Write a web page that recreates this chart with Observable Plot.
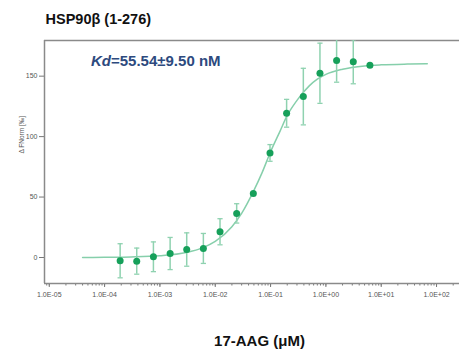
<!DOCTYPE html>
<html>
<head>
<meta charset="utf-8">
<script src="https://cdn.jsdelivr.net/npm/d3@7"></script>
<script src="https://cdn.jsdelivr.net/npm/@observablehq/plot@0.6"></script>
<style>
  html, body { margin: 0; padding: 0; background: #fff; }
  #wrap { position: relative; width: 459px; height: 352px; overflow: hidden; font-family: "Liberation Sans", Arial, sans-serif; }
  #kd { position: absolute; left: 91px; top: 52.8px; font-size: 15px; line-height: 15px; font-weight: bold; color: #2d4a7e; white-space: nowrap; }
</style>
</head>
<body>
<div id="wrap"><div id="kd"><i>Kd</i>=55.54±9.50 nM</div></div>
<script>
// ---- data ----
const title = "HSP90β (1-276)";
const xLabel = "17-AAG (μM)";
const yLabel = "Δ FNorm [‰]";

// ligand concentrations (µM), 1:1 dilution series
const conc = [0.000191, 0.000381, 0.000763, 0.00153, 0.00305, 0.0061, 0.0122, 0.0244,
              0.0488, 0.0977, 0.195, 0.391, 0.781, 1.5625, 3.125, 6.25];
// ΔFNorm (‰)
const fnorm = [-2.7, -3.0, 0.6, 3.3, 6.6, 7.5, 21.3, 36.5, 53.0, 86.5, 119.3, 133.1, 152.4, 163.0, 161.9, 159.1];
// error (± ‰)
const err = [14.1, 10.8, 12.3, 13.3, 13.8, 12.4, 10.8, 8.0, 0, 6.9, 11.5, 23.4, 24.9, 18.0, 18.2, 0];

// fitted curve
const curveConc = [4e-5, 1e-4, 3e-4, 1e-3, 3e-3, 6e-3, 0.01, 0.02, 0.03, 0.05, 0.07, 0.1, 0.15,
                   0.2, 0.3, 0.5, 0.7, 1, 2, 5, 10, 30, 68];
const curveY = [0, 0.2, 0.5, 1.5, 4.2, 8.2, 13.3, 25.5, 36.5, 55.5, 70, 87.5, 105,
                117.5, 130, 142, 147.5, 151.5, 155.8, 158.5, 159.4, 160, 160.2];

// axes
const xDomain = [8.2e-6, 260];
const yDomain = [-21.5, 179.5];
const xTicks = [1e-5, 1e-4, 1e-3, 1e-2, 1e-1, 1, 10, 100];
const xTickLabels = ["1.0E-05", "1.0E-04", "1.0E-03", "1.0E-02", "1.0E-01", "1.0E+00", "1.0E+01", "1.0E+02"];
const yTicks = [0, 50, 100, 150];
const yTickLabels = ["0", "50", "100", "150"];

// ---- build ----
const points = conc.map((c, i) => ({c, y: fnorm[i], lo: fnorm[i] - err[i], hi: fnorm[i] + err[i], e: err[i]}));
const bars = points.filter(d => d.e > 0);
const curve = curveConc.map((c, i) => ({c, y: curveY[i]}));
const xLab = new Map(xTicks.map((v, i) => [v, xTickLabels[i]]));
const yLab = new Map(yTicks.map((v, i) => [v, yTickLabels[i]]));

const capSymbol = {
  draw(ctx, size) {
    const r = Math.sqrt(size / Math.PI);
    ctx.moveTo(-r, 0);
    ctx.lineTo(r, 0);
  }
};

const frameColor = "#8a8a8a";
const tickColor = "#777";
const ptColor = "#16a05a";
const barColor = "#8fd2b0";
const curveColor = "#86cfab";

const chart = Plot.plot({
  width: 459,
  height: 352,
  marginLeft: 44,
  marginRight: 0,
  marginTop: 40,
  marginBottom: 69,
  style: {fontFamily: "'Liberation Sans', Arial, sans-serif", background: "white", overflow: "visible"},
  x: {type: "log", domain: xDomain, axis: null},
  y: {domain: yDomain, axis: null},
  marks: [
    Plot.axisX({ticks: 20, tickSize: 2.5, tickFormat: () => "", stroke: tickColor, label: null}),
    Plot.axisX({ticks: xTicks, tickSize: 4, tickPadding: 5, tickFormat: d => xLab.get(d),
                fontSize: 7, fill: "#555", stroke: tickColor, label: null}),
    Plot.axisY({ticks: yTicks, tickSize: 5, tickPadding: 2, tickFormat: d => yLab.get(d),
                fontSize: 7, fill: "#555", stroke: tickColor, label: null}),
    Plot.ruleX([xDomain[0]], {stroke: frameColor, strokeWidth: 1.5}),
    Plot.ruleY([yDomain[1]], {stroke: frameColor, strokeWidth: 1.5}),
    Plot.ruleY([yDomain[0]], {stroke: frameColor, strokeWidth: 1.5}),
    Plot.line(curve, {x: "c", y: "y", curve: "monotone-x", stroke: curveColor, strokeWidth: 1.5}),
    Plot.ruleX(bars, {x: "c", y1: "lo", y2: "hi", stroke: barColor, strokeWidth: 1.5, clip: true}),
    Plot.dot(bars, {x: "c", y: "lo", symbol: capSymbol, r: 2.6, stroke: barColor, strokeWidth: 1.3, fill: "none", clip: true}),
    Plot.dot(bars, {x: "c", y: "hi", symbol: capSymbol, r: 2.6, stroke: barColor, strokeWidth: 1.3, fill: "none", clip: true}),
    Plot.dot(points, {x: "c", y: "y", r: 3.5, fill: ptColor, stroke: "none"}),
    Plot.text([title], {frameAnchor: "top-left", dx: 1, dy: -17, textAnchor: "start", lineAnchor: "bottom",
                        fontSize: 14.5, fontWeight: "bold", fill: "#111"}),
    Plot.text([xLabel], {frameAnchor: "bottom", dx: 7.5, dy: 62, lineAnchor: "bottom",
                         fontSize: 15, fontWeight: "bold", fill: "#111"}),
    Plot.text([yLabel], {frameAnchor: "left", dx: -23, dy: -8.5, rotate: -90, fontSize: 6.5, fill: "#555"})
  ]
});
document.getElementById("wrap").prepend(chart);
</script>
</body>
</html>
